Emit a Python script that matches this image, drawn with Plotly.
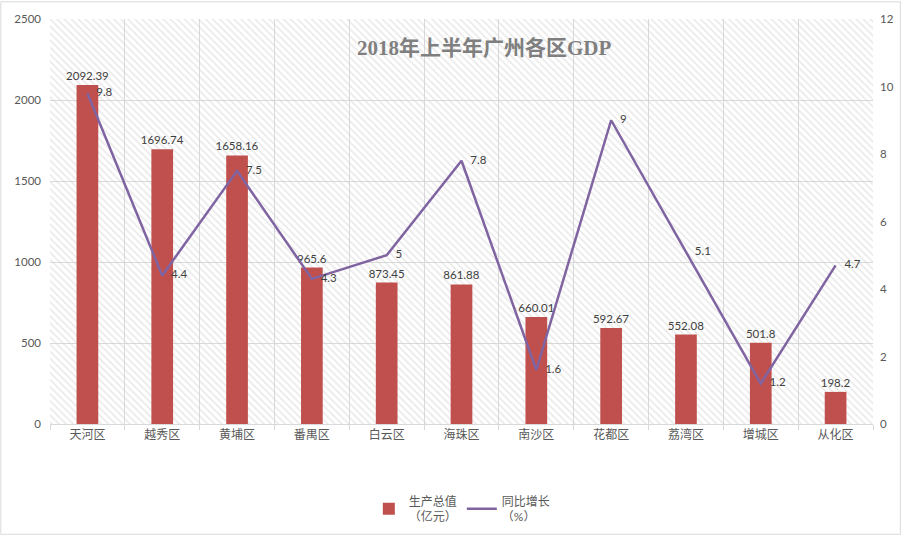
import plotly.graph_objects as go

districts = ["天河区", "越秀区", "黄埔区", "番禺区", "白云区", "海珠区", "南沙区", "花都区", "荔湾区", "增城区", "从化区"]
gdp = [2092.39, 1696.74, 1658.16, 965.6, 873.45, 861.88, 660.01, 592.67, 552.08, 501.8, 198.2]
growth = [9.8, 4.4, 7.5, 4.3, 5, 7.8, 1.6, 9, 5.1, 1.2, 4.7]
gdp_ticks = [0, 500, 1000, 1500, 2000, 2500]
growth_ticks = [0, 2, 4, 6, 8, 10, 12]

W, H = 906, 544
ML, MR, MT, MB = 50, 28, 18, 113
PW, PH = W - ML - MR, H - MT - MB

FONT = "Lato, 'Noto Sans CJK SC', sans-serif"
GRID = "#d9d9d9"
TXT = "#595959"

fig = go.Figure()

# hatched plot-area background
fig.add_trace(go.Bar(
    x=[districts[len(districts) // 2]], y=[1], width=[len(districts)],
    yaxis="y", marker=dict(color="rgba(0,0,0,0)", line=dict(width=0),
                           pattern=dict(shape="\\", fgcolor="#d2d2d2", bgcolor="rgba(0,0,0,0)",
                                        size=5, solidity=0.3)),
    hoverinfo="skip", showlegend=False))

fig.add_trace(go.Bar(
    x=districts, y=gdp, yaxis="y2", name="生产总值<br>（亿元）",
    marker=dict(color="#C0504D", line=dict(width=0)), width=0.29,
    text=[f"{v:g}" for v in gdp], textposition="outside", cliponaxis=False,
    constraintext="none",
    textfont=dict(family=FONT, size=11.5, color="#404040")))

fig.add_trace(go.Scatter(
    x=districts, y=growth, yaxis="y3", name="同比增长<br>（%）",
    mode="lines+text", line=dict(color="#8064A2", width=2.5),
    text=[f"   {v:g}" for v in growth], textposition="middle right", cliponaxis=False,
    textfont=dict(family=FONT, size=11.5, color="#404040")))

fig.update_layout(
    width=W, height=H, margin=dict(l=ML, r=MR, t=MT, b=MB),
    paper_bgcolor="white", plot_bgcolor="white",
    barmode="overlay", font=dict(family=FONT, color=TXT),
    xaxis=dict(type="category", categoryorder="array", categoryarray=districts,
               tickson="boundaries", showgrid=True, gridcolor=GRID, gridwidth=1,
               showline=True, linecolor=GRID, ticks="outside", ticklen=5, tickcolor=GRID,
               tickfont=dict(size=12, color=TXT), range=[-0.5, len(districts) - 0.5]),
    yaxis=dict(range=[0, 1], visible=False, showgrid=False),
    yaxis2=dict(overlaying="y", side="left", range=[0, gdp_ticks[-1]], tickvals=gdp_ticks,
                showgrid=True, gridcolor=GRID, zeroline=False, showline=False,
                tickfont=dict(size=11.5, color=TXT), ticks="", ticklabelstandoff=8),
    yaxis3=dict(overlaying="y", side="right", range=[0, growth_ticks[-1]], tickvals=growth_ticks,
                showgrid=False, zeroline=False, showline=False,
                tickfont=dict(size=11.5, color=TXT), ticks="", ticklabelstandoff=6),
    legend=dict(orientation="h", x=0.501, y=-0.21, xanchor="center", yanchor="middle",
                font=dict(size=12, color=TXT), itemwidth=30, tracegroupgap=0,
                bgcolor="rgba(0,0,0,0)"),
    annotations=[dict(text="<b>2018年上半年广州各区GDP</b>", xref="paper", yref="paper",
                      x=(487 - ML) / PW, y=(PH + MT - 48) / PH,
                      xanchor="center", yanchor="middle", showarrow=False,
                      font=dict(family="'Liberation Serif', 'Noto Sans CJK SC', serif", size=21, color="#7f7f7f"))],
    shapes=[dict(type="rect", xref="paper", yref="paper",
                 x0=(-ML + 0.5) / PW, x1=(W - ML - 0.5) / PW,
                 y0=-(MB - 0.5) / PH, y1=1 + (MT - 0.5) / PH,
                 line=dict(color=GRID, width=1), fillcolor="rgba(0,0,0,0)", layer="below")],
)

fig.write_html("out.html")
